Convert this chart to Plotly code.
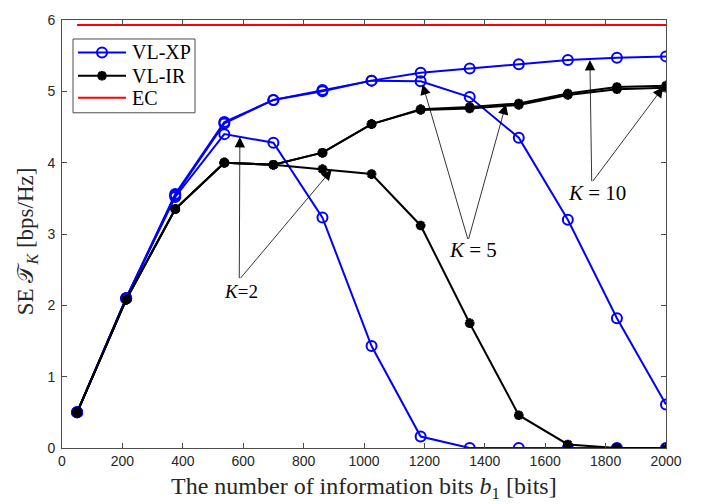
import plotly.graph_objects as go

# Information bits b1 (x positions of the sampled points)
b1 = [50, 212.5, 375, 537.5, 700, 862.5, 1025, 1187.5, 1350, 1512.5, 1675, 1837.5, 2000]

# VL-XP spectral efficiency for K = 2, 5, 10
xp_k2 = [0.50, 2.10, 3.52, 4.40, 4.28, 3.23, 1.43, 0.16, 0.00, 0.00, 0.00, 0.00, 0.00]
xp_k5 = [0.50, 2.10, 3.54, 4.55, 4.88, 5.00, 5.15, 5.14, 4.92, 4.35, 3.20, 1.82, 0.61]
xp_k10 = [0.50, 2.10, 3.56, 4.57, 4.88, 5.02, 5.15, 5.26, 5.32, 5.38, 5.44, 5.47, 5.49]

# VL-IR spectral efficiency for K = 2, 5, 10
ir_k2 = [0.50, 2.08, 3.35, 4.00, 3.97, 3.91, 3.84, 3.12, 1.75, 0.46, 0.05, 0.00, 0.00]
ir_k5 = [0.50, 2.08, 3.35, 4.00, 3.97, 4.14, 4.54, 4.74, 4.76, 4.81, 4.95, 5.03, 5.05]
ir_k10 = [0.50, 2.08, 3.35, 4.00, 3.97, 4.14, 4.54, 4.75, 4.78, 4.83, 4.97, 5.06, 5.08]

# Ergodic capacity bound
ec_x = [50, 2000]
ec_y = [5.93, 5.93]

x_ticks = [0, 200, 400, 600, 800, 1000, 1200, 1400, 1600, 1800, 2000]
y_ticks = [0, 1, 2, 3, 4, 5, 6]

legend_names = ["VL-XP", "VL-IR", "EC"]

SERIF = "Liberation Serif, Times New Roman, serif"
SANS = "Liberation Sans, Arial, sans-serif"
BLUE = "#0000FF"
RED = "#FF0000"
BLACK = "#000000"
AXIS = "#4d4d4d"

W, H = 709, 504
ML, MR, MT, MB = 62, 43, 12.7, 56.3
PW, PH = W - ML - MR, H - MT - MB


def px(xp):
    return (xp - ML) / PW


def py(yp):
    return (H - MB - yp) / PH


XP_MARKER = dict(symbol="circle-open", size=10, color=BLUE, line=dict(color=BLUE, width=2))
IR_MARKER = dict(symbol="asterisk-open", size=8, color=BLACK, line=dict(color=BLACK, width=3))

fig = go.Figure()

# Blue VL-XP curves
for ys in [xp_k2, xp_k5, xp_k10]:
    fig.add_trace(go.Scatter(
        x=b1, y=ys, mode="lines+markers", showlegend=False,
        line=dict(color=BLUE, width=2), marker=XP_MARKER,
    ))

# Black VL-IR curves
for ys in [ir_k2, ir_k5, ir_k10]:
    fig.add_trace(go.Scatter(
        x=b1, y=ys, mode="lines+markers", showlegend=False,
        line=dict(color=BLACK, width=2), marker=IR_MARKER,
    ))

# EC upper bound
fig.add_trace(go.Scatter(
    x=ec_x, y=ec_y, mode="lines", showlegend=False,
    line=dict(color=RED, width=2),
))

# Legend box drawn in paper space (below traces so the markers sit on top)
shapes = [dict(type="rect", xref="paper", yref="paper",
               x0=px(73), x1=px(195), y0=py(107), y1=py(32),
               line=dict(color=AXIS, width=1), fillcolor="white", layer="below")]
row_y = [45.7, 69.3, 91.7]
row_col = [BLUE, BLACK, RED]
for ry, col in zip(row_y, row_col):
    shapes.append(dict(type="line", xref="paper", yref="paper",
                       x0=px(78), x1=px(126), y0=py(ry), y1=py(ry),
                       line=dict(color=col, width=2), layer="below"))

# Legend markers on an overlay axis spanning the plot area in paper units
fig.add_trace(go.Scatter(
    x=[px(102)], y=[py(row_y[0])], mode="markers", marker=XP_MARKER,
    xaxis="x2", yaxis="y2", showlegend=False, hoverinfo="skip",
))
fig.add_trace(go.Scatter(
    x=[px(102)], y=[py(row_y[1])], mode="markers", marker=IR_MARKER,
    xaxis="x2", yaxis="y2", showlegend=False, hoverinfo="skip",
))

annotations = []
for ry, name in zip(row_y, legend_names):
    annotations.append(dict(
        x=px(130), y=py(ry), xref="paper", yref="paper", text=name,
        showarrow=False, xanchor="left", yanchor="middle",
        font=dict(family=SERIF, size=20, color=BLACK),
    ))

# Arrow annotations: (tail x, tail y, head x, head y)
arrows = [
    (587, 2.36, 589, 4.36),
    (587, 2.36, 893, 3.90),
    (1345, 2.91, 1194, 5.10),
    (1345, 2.91, 1470, 4.82),
    (1754, 3.72, 1748, 5.44),
    (1754, 3.72, 1991, 5.06),
]
for tx, ty, hx, hy in arrows:
    annotations.append(dict(
        x=hx, y=hy, ax=tx, ay=ty, xref="x", yref="y", axref="x", ayref="y",
        text="", showarrow=True, arrowhead=2, arrowsize=2.6, arrowwidth=0.8,
        arrowcolor=BLACK,
    ))

labels = [
    (593, 2.20, "<i>K</i>=2", 19),
    (1360, 2.78, "<i>K</i> = 5", 21),
    (1770, 3.57, "<i>K</i> = 10", 21),
]
for lx, ly, txt, fs in labels:
    annotations.append(dict(
        x=lx, y=ly, xref="x", yref="y", text=txt, showarrow=False,
        font=dict(family=SERIF, size=fs, color=BLACK),
        xanchor="center", yanchor="middle",
    ))

# Axis titles
annotations.append(dict(
    x=0.5, y=py(488), xref="paper", yref="paper",
    text="The number of information bits <i>b</i><sub>1</sub> [bits]",
    showarrow=False, xanchor="center", yanchor="middle",
    font=dict(family=SERIF, size=24, color="#262626"),
))
annotations.append(dict(
    x=px(27), y=py(237.5), xref="paper", yref="paper",
    text="SE 𝒯<sub><i>K</i></sub> [bps/Hz]", textangle=-90,
    showarrow=False, xanchor="center", yanchor="middle",
    font=dict(family=SERIF, size=23, color="#262626"),
))

axis_common = dict(
    showgrid=False, zeroline=False, showline=True, linecolor=AXIS,
    linewidth=1, mirror="ticks", ticks="inside", ticklen=5,
    tickcolor=AXIS, tickfont=dict(family=SANS, size=14, color="#262626"),
)

fig.update_layout(
    width=W, height=H,
    margin=dict(l=ML, r=MR, t=MT, b=MB),
    paper_bgcolor="white", plot_bgcolor="white",
    xaxis=dict(range=[0, 2000], tickvals=x_ticks, **axis_common),
    yaxis=dict(range=[0, 6], tickvals=y_ticks, ticklabelstandoff=3, **axis_common),
    xaxis2=dict(range=[0, 1], overlaying="x", visible=False, fixedrange=True),
    yaxis2=dict(range=[0, 1], overlaying="y", visible=False, fixedrange=True),
    annotations=annotations,
    shapes=shapes,
    showlegend=False,
)

fig.write_html("out.html")
